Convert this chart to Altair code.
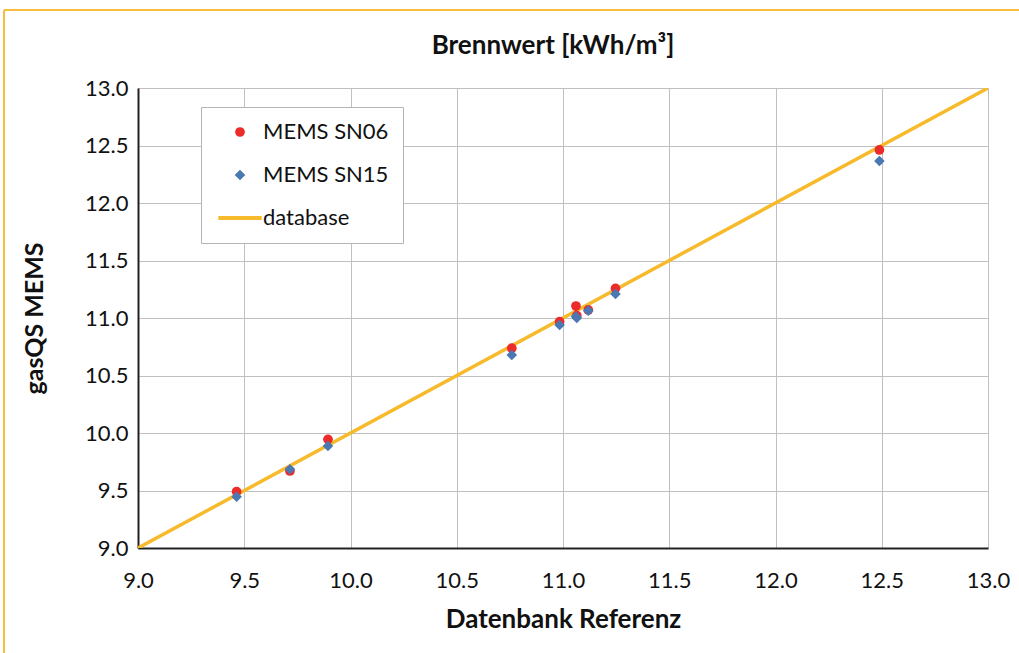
import altair as alt
import pandas as pd

# reference values (Datenbank Referenz) and measured values
x_ref = [9.464, 9.715, 9.894, 10.759, 10.984, 11.061, 11.065, 11.119, 11.247, 12.489]
sn06 = [9.490, 9.670, 9.945, 10.737, 10.968, 11.104, 11.020, 11.070, 11.258, 12.461]
sn15 = [9.446, 9.685, 9.887, 10.678, 10.939, 11.013, 11.000, 11.064, 11.209, 12.365]
db_x = [9.0, 13.0]
db_y = [9.0, 13.0]

series_names = ["MEMS SN06", "MEMS SN15", "database"]
colors = ["#EC2B2B", "#4A78B2", "#F6BA2C"]
line_path = "M-3.8,-0.36L3.8,-0.36L3.8,0.36L-3.8,0.36Z"

pts = pd.DataFrame(
    {"x": x_ref + x_ref, "y": sn06 + sn15,
     "series": [series_names[0]] * len(x_ref) + [series_names[1]] * len(x_ref)}
)
db = pd.DataFrame({"x": db_x, "y": db_y})

FONT = "Lato"
xscale = alt.Scale(domain=[9, 13], nice=False, zero=False)
yscale = alt.Scale(domain=[9, 13], nice=False, zero=False)
ticks = [9.0, 9.5, 10.0, 10.5, 11.0, 11.5, 12.0, 12.5, 13.0]

xaxis = alt.Axis(title="Datenbank Referenz", values=ticks, format=".1f", ticks=False,
                 domainColor="#222222", domainWidth=2, gridColor="#c0c0c0", gridWidth=1,
                 labelFont=FONT, labelFontSize=22, labelColor="#111111", labelPadding=22,
                 titleFont=FONT, titleFontSize=26, titleFontWeight="bold", titleColor="#111111",
                 titlePadding=15, labelFlush=False)
yaxis = alt.Axis(title="gasQS MEMS", values=ticks, format=".1f", ticks=False,
                 domainColor="#222222", domainWidth=2, gridColor="#c0c0c0", gridWidth=1,
                 labelFont=FONT, labelFontSize=22, labelColor="#111111", labelPadding=10,
                 titleFont=FONT, titleFontSize=25, titleFontWeight="bold", titleColor="#111111",
                 titlePadding=37, labelFlush=False)

leg = alt.Legend(title=None, orient="none", legendX=63, legendY=19,
                 strokeColor="#b4b4b4", fillColor="white", padding=14,
                 labelFont=FONT, labelFontSize=22, labelColor="#111111",
                 rowPadding=21, labelOffset=12, symbolOffset=14, symbolSize=100,
                 symbolOpacity=1, symbolStrokeWidth=0)

line = alt.Chart(db).mark_line(color=colors[2], strokeWidth=3.5, clip=True).encode(
    x=alt.X("x:Q", scale=xscale, axis=xaxis),
    y=alt.Y("y:Q", scale=yscale, axis=yaxis),
)

points = alt.Chart(pts).mark_point(filled=True, opacity=1, strokeWidth=0).encode(
    x=alt.X("x:Q", scale=xscale),
    y=alt.Y("y:Q", scale=yscale),
    color=alt.Color("series:N", scale=alt.Scale(domain=series_names, range=colors), legend=leg),
    shape=alt.Shape("series:N", scale=alt.Scale(domain=series_names,
                                                range=["circle", "diamond", line_path]), legend=leg),
    size=alt.Size("series:N", scale=alt.Scale(domain=series_names, range=[95, 130, 100]), legend=None),
)

frame = pd.DataFrame({"k": [0]})
border_top = alt.Chart(frame).mark_rule(color="#F6BE3C", strokeWidth=2, clip=False).encode(
    x=alt.value(-134), x2=alt.value(900), y=alt.value(-78))
border_left = alt.Chart(frame).mark_rule(color="#F6BE3C", strokeWidth=2, clip=False).encode(
    x=alt.value(-134), y=alt.value(-78), y2=alt.value(600))

chart = alt.layer(line, points, border_top, border_left).properties(
    width=850, height=460,
    title=alt.TitleParams("Brennwert [kWh/m³]", font=FONT, fontSize=26, fontWeight="bold",
                          color="#111111", offset=26, dy=76, dx=-10, frame="group"),
    autosize=alt.AutoSizeParams(type="none"),
    padding={"left": 138, "top": 88, "right": 31, "bottom": 105},
).configure_view(stroke=None).configure(background="white")

chart.save("out.html", embed_options={"renderer": "svg", "actions": False})
